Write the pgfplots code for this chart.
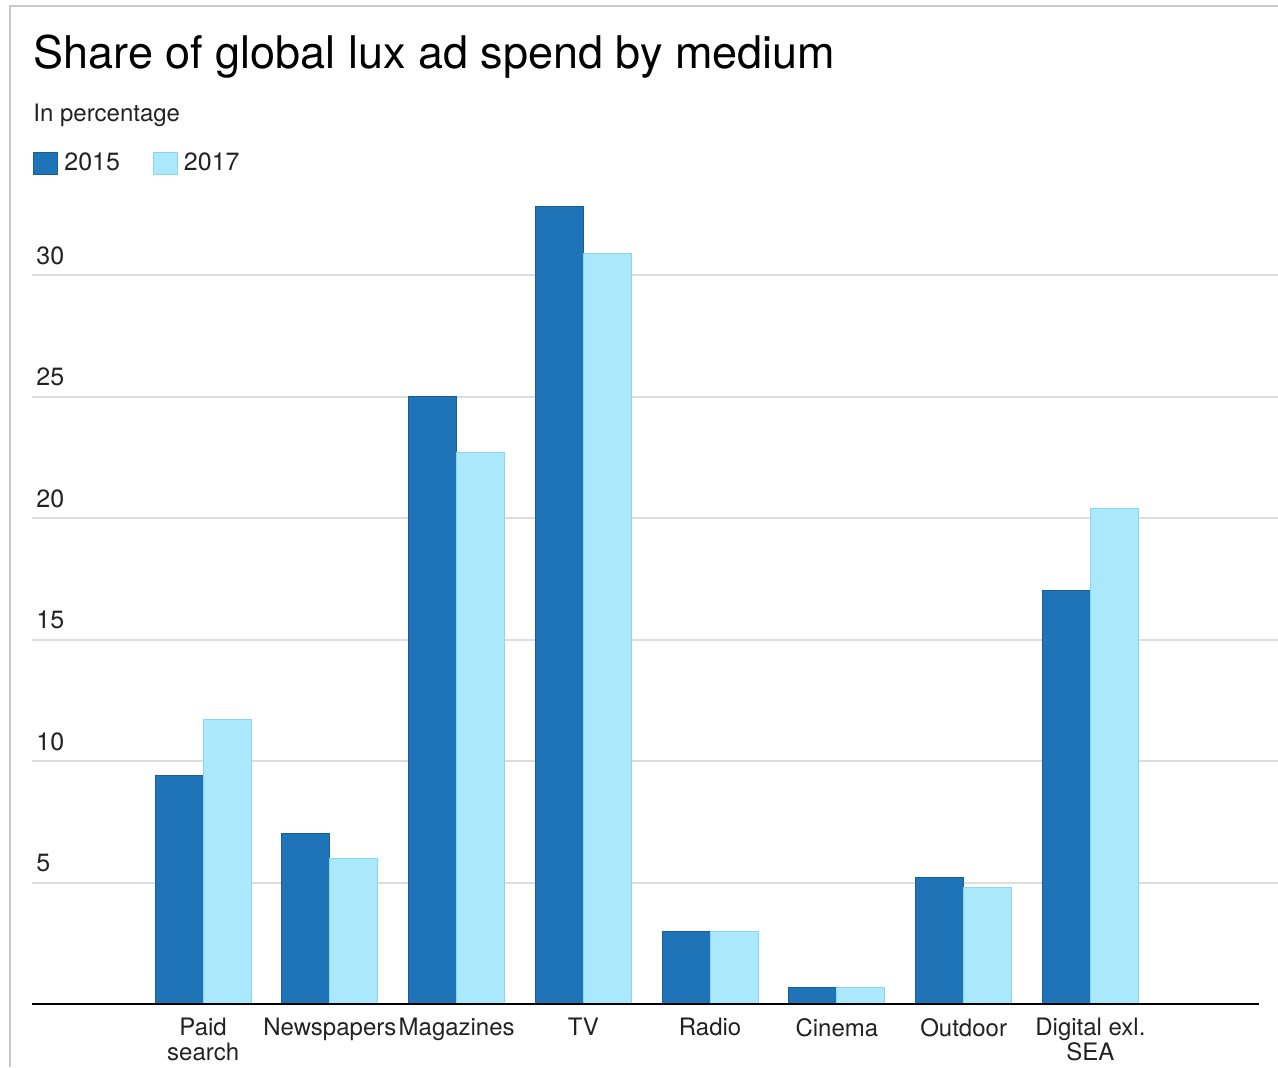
\documentclass[border=0pt]{standalone}
\usepackage{pgfplots}
\pgfplotsset{compat=1.18}
\usepackage{fontspec}
\setmainfont{TeX Gyre Heros}
\definecolor{dark}{HTML}{1F73B7}
\definecolor{darkedge}{HTML}{185E9A}
\definecolor{light}{HTML}{AAE9FC}
\definecolor{lightedge}{HTML}{8DD4EE}
\definecolor{gridgray}{HTML}{DDDDDD}
\definecolor{framegray}{HTML}{C9C9C9}
\definecolor{labelgray}{HTML}{222222}

% Share of luxury ad spend (%), 2015 vs 2017
\pgfplotstableread{
x  y15  y17
0  9.4  11.7
1  7.0  6.0
2  25.0 22.7
3  32.8 30.9
4  3.0  3.0
5  0.7  0.7
6  5.2  4.8
7  17.0 20.4
}\spend

\begin{document}
\begin{tikzpicture}
\useasboundingbox (0,0) rectangle (639pt,-533.5pt);
\draw[framegray, line width=1pt] (5pt,-533.5pt) -- (5pt,-3pt) -- (639pt,-3pt);
\node[anchor=base west, inner sep=0pt, font=\fontsize{22.5}{27}\selectfont] at (16.5pt,-34pt) {Share of global lux ad spend by medium};
\node[anchor=base west, inner sep=0pt, text=labelgray, font=\fontsize{12}{14}\selectfont] at (16.5pt,-60.8pt) {In percentage};
\begin{axis}[
  at={(16pt,-502pt)}, anchor=south west,
  scale only axis, width=623pt, height=413.1pt,
  xmin=-1.35, xmax=8.48, ymin=0, ymax=34,
  clip=false,
  axis line style={draw=none},
  major tick length=0pt,
  ytick={5,10,15,20,25,30},
  ymajorgrids, grid style={gridgray, line width=1pt},
  /pgf/number format/assume math mode=true,
  yticklabel style={anchor=south west, inner sep=0pt, xshift=2pt, yshift=5pt,
    font=\fontsize{12.5}{13}\selectfont, text=labelgray},
  xtick={0,...,7},
  xticklabels={{Paid\\search}, Newspapers, Magazines, TV, Radio, Cinema, Outdoor, {Digital exl.\\SEA}},
  xticklabel style={anchor=north, align=center, inner sep=0pt, yshift=-7pt,
    font=\fontsize{12}{12.5}\selectfont, text=labelgray},
  ybar, bar width=24pt,
  legend columns=2,
  legend style={at={(axis description cs:0.0008,1.0179)}, anchor=west,
    draw=none, fill=none, inner sep=0pt,
    nodes={inner sep=0pt, text=labelgray},
    font=\fontsize{12.5}{13}\selectfont,
    /tikz/every odd column/.append style={column sep=3pt},
    /tikz/every even column/.append style={column sep=16.5pt}},
  legend image code/.code={\filldraw[#1] (0pt,-5.5pt) rectangle (12pt,5.5pt);},
]
\addplot[fill=dark, draw=darkedge, line width=0.5pt, bar shift=-12pt] table[x=x, y=y15] {\spend};
\addlegendentry{2015}
\addplot[fill=light, draw=lightedge, line width=0.5pt, bar shift=12pt] table[x=x, y=y17] {\spend};
\addlegendentry{2017}
\draw[black, line width=1pt] (axis cs:-1.35,0) -- (axis cs:8.33,0);
\end{axis}
\end{tikzpicture}
\end{document}
